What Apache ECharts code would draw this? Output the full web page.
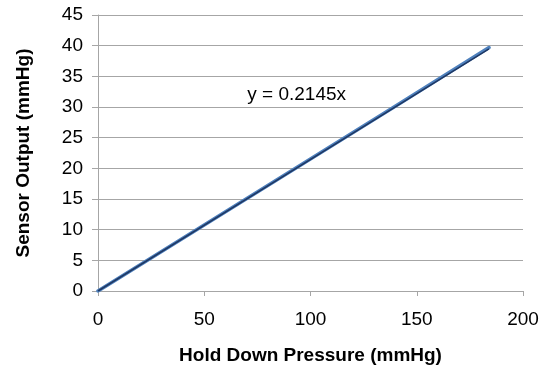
<!DOCTYPE html>
<html>
<head>
<meta charset="utf-8">
<script src="https://cdn.jsdelivr.net/npm/echarts@6/dist/echarts.min.js"></script>
<style>
  html, body { margin: 0; padding: 0; background: #fff; }
  #chart { width: 543px; height: 366px; }
</style>
</head>
<body>
<div id="chart"></div>
<script>
// measured pressure vs sensor output
const pressure = [0, 46, 92, 138, 184]
const sensorOut = [0, 9.9, 19.8, 29.7, 39.7]
// linear fit through origin
const slope = 0.2145
const trendX = [0, 184]
const trendLabel = 'y = 0.2145x'

const chart = echarts.init(document.getElementById('chart'))
const font = 'Liberation Sans, Arial, sans-serif'

chart.setOption({
  animation: false,
  grid: { left: 98, right: 20, top: 15, bottom: 75, outerBoundsMode: 'none' },
  xAxis: {
    type: 'value',
    min: 0,
    max: 200,
    interval: 50,
    name: 'Hold Down Pressure (mmHg)',
    nameLocation: 'middle',
    nameGap: 55,
    nameTextStyle: { fontFamily: font, fontSize: 19, fontWeight: 'bold', color: '#000' },
    axisLine: { show: true, lineStyle: { color: '#a6a6a6' } },
    axisTick: { show: true, length: 5, lineStyle: { color: '#a6a6a6' } },
    axisLabel: { fontFamily: font, fontSize: 19, color: '#000', margin: 19 },
    splitLine: { show: false }
  },
  yAxis: {
    type: 'value',
    min: 0,
    max: 45,
    interval: 5,
    name: 'Sensor Output (mmHg)',
    nameLocation: 'middle',
    nameGap: 65,
    nameTextStyle: { fontFamily: font, fontSize: 19, fontWeight: 'bold', color: '#000' },
    axisLine: { show: true, lineStyle: { color: '#a6a6a6' } },
    axisTick: { show: true, length: 6, lineStyle: { color: '#a6a6a6' } },
    axisLabel: { fontFamily: font, fontSize: 19, color: '#000', margin: 15 },
    splitLine: { show: true, lineStyle: { color: '#a6a6a6', width: 1 } }
  },
  series: [{
    name: 'data',
    type: 'line',
    data: pressure.map((x, i) => [x, sensorOut[i]]),
    showSymbol: false,
    lineStyle: { color: '#4f81bd', width: 3.5, cap: 'round' }
  }, {
    name: 'trend',
    type: 'line',
    data: trendX.map(x => [x, +(slope * x).toFixed(3)]),
    showSymbol: false,
    lineStyle: { color: '#1f3864', width: 1.5 },
    markPoint: {
      symbol: 'circle',
      symbolSize: 0,
      data: [{ coord: [93.5, 32] }],
      label: {
        show: true,
        formatter: trendLabel,
        fontFamily: font,
        fontSize: 19,
        color: '#000',
        position: 'inside'
      }
    }
  }]
})
</script>
</body>
</html>
